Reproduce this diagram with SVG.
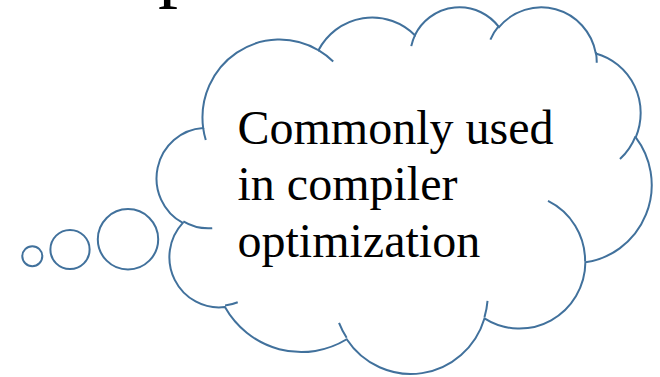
<svg xmlns="http://www.w3.org/2000/svg" width="660" height="377" viewBox="0 0 660 377">
  <style>
    .outline { fill: #FFFFFF; stroke: #41719C; stroke-width: 2; }
    .hint { fill: none; stroke: #41719C; stroke-width: 2; }
    .serif { font-family: "Liberation Serif", "Times New Roman", serif; fill: #000000; }
    .body { font-size: 48px; }
  </style>
  <rect x="0" y="0" width="660" height="377" fill="#FFFFFF"/>

  <!-- descender of the heading above, clipped by the top edge -->
  <g id="heading">
    <text class="serif" x="158" y="-8" font-size="80">p</text>
  </g>

  <!-- callout tail: three bubbles leading to the cloud -->
  <g id="connectors">
    <circle class="outline" cx="32.3" cy="256.2" r="10"/>
    <circle class="outline" cx="70" cy="249.5" r="19.6"/>
    <circle class="outline" cx="128" cy="239.3" r="30.2"/>
  </g>

  <g id="cloud">
    <path class="outline" d="M 203.19 128.02
      A 77.03 77.97 0 0 1 318.47 50.25
      A 60.83 61.66 0 0 1 414.87 35.20
      A 49.79 50.44 0 0 1 499.03 27.15
      A 55.40 55.96 0 0 1 595.81 53.42
      A 60.83 61.71 0 0 1 635.74 137.28
      A 77.28 78.23 0 0 1 585.38 262.36
      A 65.99 66.75 0 0 1 484.45 318.44
      A 77.02 78.18 0 0 1 346.71 339.26
      A 88.06 89.45 0 0 1 224.93 307.09
      A 49.73 50.21 0 0 1 182.82 222.91
      A 49.56 50.44 0 0 1 203.19 128.02 Z"/>
    <!-- short inner arcs where the puffs overlap -->
    <path class="hint" d="M 212.23 228.20 A 49.56 50.44 0 0 1 183.32 221.43
      M 237.73 302.20 A 49.73 50.21 0 0 1 225.08 305.44
      M 346.66 337.76 A 77.02 78.18 0 0 1 339.04 322.97
      M 487.53 300.94 A 77.02 78.18 0 0 1 484.49 317.13
      M 548.01 200.85 A 65.99 66.75 0 0 1 585.10 261.40
      M 635.49 136.37 A 60.83 61.71 0 0 1 619.97 159.07
      M 595.86 52.14 A 55.40 55.96 0 0 1 596.73 62.86
      M 490.39 39.63 A 55.40 55.96 0 0 1 498.87 25.94
      M 411.26 46.15 A 49.79 50.44 0 0 1 415.36 34.36
      M 318.40 50.15 A 77.03 77.97 0 0 1 333.20 61.57
      M 205.78 140.06 A 77.03 77.97 0 0 1 203.19 128.03"/>
    <text class="serif body" x="237.5" y="143.5">Commonly used</text>
    <text class="serif body" x="237.5" y="200">in compiler</text>
    <text class="serif body" x="237.5" y="256.5">optimization</text>
  </g>
</svg>
